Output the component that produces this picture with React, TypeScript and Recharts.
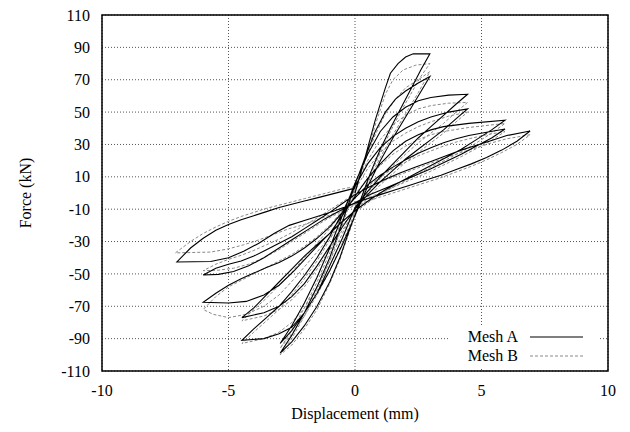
import { LineChart, Line, XAxis, YAxis, CartesianGrid, ReferenceArea } from 'recharts';

// displacement (mm) / force (kN) pairs, traced branch by branch
const meshA: [number, number][] = [
  // cycle 1 load
  [0, 0], [0.4, 22], [0.8, 45], [1.2, 65], [1.4, 74], [1.7, 80], [2.0, 84], [2.3, 86], [2.96, 86],
  // unload
  [2.6, 76], [2.2, 64], [1.8, 52], [1.4, 40], [1.0, 27], [0.6, 12], [0.2, -5], [-0.2, -22], [-0.6, -40],
  [-1.0, -55], [-1.5, -70], [-2.0, -82], [-2.5, -92], [-2.96, -99],
  // cycle 2
  [-2.5, -88], [-2.0, -74], [-1.5, -58], [-1.0, -40], [-0.5, -18], [0, 5], [0.4, 22], [0.8, 38], [1.2, 50],
  [1.6, 58], [2.0, 63], [2.5, 68], [2.96, 72],
  [2.5, 60], [2.0, 47], [1.5, 34], [1.0, 20], [0.5, 4], [0, -14], [-0.5, -32], [-1.0, -48], [-1.5, -62],
  [-2.0, -74], [-2.5, -85], [-2.96, -93],
  // cycle 3
  [-2.5, -82], [-2.0, -68], [-1.5, -52], [-1.0, -34], [-0.5, -14], [0, 6], [0.5, 24], [1.0, 38], [1.5, 47],
  [2.0, 53], [2.5, 57], [3.0, 59], [3.7, 60.5], [4.45, 61],
  [4.0, 55], [3.5, 48], [3.0, 41], [2.5, 34], [2.0, 26], [1.5, 18], [1.0, 10], [0.5, 1], [0, -9],
  [-0.5, -28], [-1.0, -45], [-1.5, -62], [-2.0, -74], [-2.5, -83], [-3.0, -87], [-3.6, -90], [-4.47, -91],
  // cycle 4
  [-4.0, -84], [-3.5, -77], [-3.0, -70], [-2.5, -61], [-2.0, -51], [-1.5, -40], [-1.0, -27], [-0.5, -12],
  [0, 4], [0.5, 18], [1.0, 28], [1.5, 35], [2.0, 40], [2.5, 44], [3.0, 47], [3.7, 50], [4.45, 52],
  [4.0, 46], [3.5, 39], [3.0, 33], [2.5, 27], [2.0, 21], [1.5, 14], [1.0, 7], [0.5, -1], [0, -10],
  [-0.5, -21], [-1.0, -33], [-1.5, -45], [-2.0, -56], [-2.5, -64], [-3.0, -70], [-3.6, -74], [-4.47, -77],
  // cycle 5
  [-4.0, -71], [-3.5, -63], [-3.0, -55], [-2.5, -47], [-2.0, -39], [-1.5, -32], [-1.0, -25], [-0.5, -14],
  [0, -2], [0.5, 9], [1.0, 18], [1.5, 26], [2.0, 32], [2.5, 36], [3.0, 39], [3.5, 41], [4.5, 43], [5.93, 45],
  [5.4, 39], [4.8, 33], [4.2, 27], [3.6, 22], [3.0, 17], [2.4, 12], [1.8, 7], [1.2, 2], [0.6, -4], [0, -11],
  [-0.6, -19], [-1.2, -28], [-1.8, -38], [-2.4, -48], [-3.0, -57], [-3.6, -63], [-4.3, -67], [-5.0, -68],
  [-6.0, -67.5],
  // cycle 6
  [-5.5, -62], [-5.0, -57], [-4.5, -53], [-4.0, -49.5], [-3.5, -46], [-3.0, -43], [-2.5, -39], [-2.0, -34],
  [-1.5, -28], [-1.0, -21], [-0.5, -12], [0, -3], [0.5, 5], [1.0, 11], [1.5, 16], [2.0, 20.5], [2.5, 24.5],
  [3.0, 28], [3.5, 31], [4.0, 33.5], [4.5, 35.5], [5.2, 37.5], [5.93, 39.5],
  [5.4, 34], [4.8, 29], [4.2, 24], [3.6, 19.5], [3.0, 15], [2.4, 11], [1.8, 7], [1.2, 3], [0.6, -1], [0, -6],
  [-0.6, -11], [-1.2, -16], [-1.8, -22], [-2.4, -28], [-3.0, -34], [-3.6, -40], [-4.2, -45], [-4.8, -48.5],
  [-5.4, -50.3], [-6.0, -50.7],
  // cycle 7
  [-5.5, -46.5], [-5.0, -44], [-4.5, -42], [-4.0, -39], [-3.5, -35], [-3.0, -31], [-2.5, -27], [-2.0, -22],
  [-1.5, -17], [-1.0, -12], [-0.5, -6.5], [0, -1], [0.6, 4], [1.2, 8.5], [1.8, 12.5], [2.4, 16], [3.0, 19.5],
  [3.6, 23], [4.2, 26.5], [4.8, 29.5], [5.4, 32.5], [6.0, 35.5], [6.92, 38.3],
  [6.4, 32], [5.8, 26.5], [5.2, 22], [4.6, 18], [4.0, 14.5], [3.4, 11], [2.8, 8], [2.2, 5], [1.6, 2],
  [1.0, -1], [0.4, -4], [-0.2, -7.5], [-0.8, -11], [-1.4, -14], [-2.0, -17], [-2.6, -20], [-3.2, -25],
  [-3.8, -31], [-4.4, -36], [-5.0, -40], [-5.7, -42.3], [-7.04, -42.6],
  // final reload
  [-6.5, -34], [-6.0, -28], [-5.5, -23], [-5.0, -19.5], [-4.5, -16.5], [-4.0, -14], [-3.5, -11.5],
  [-3.0, -9], [-2.5, -7], [-2.0, -5], [-1.5, -3], [-1.0, -1], [-0.5, 1], [0, 3],
];

const meshB: [number, number][] = [
  [0, 0], [0.4, 20], [0.8, 42], [1.2, 61], [1.5, 70], [1.9, 76], [2.4, 79], [2.96, 80],
  [2.6, 72], [2.2, 61], [1.8, 50], [1.4, 38], [1.0, 25], [0.6, 11], [0.2, -6], [-0.2, -23], [-0.6, -41],
  [-1.0, -56], [-1.5, -72], [-2.0, -84], [-2.5, -94], [-2.96, -100],
  [-2.5, -90], [-2.0, -76], [-1.5, -60], [-1.0, -42], [-0.5, -20], [0, 3], [0.4, 20], [0.8, 36], [1.2, 49],
  [1.6, 58], [2.0, 65], [2.5, 70], [2.96, 75],
  [2.5, 62], [2.0, 49], [1.5, 36], [1.0, 22], [0.5, 6], [0, -12], [-0.5, -31], [-1.0, -48], [-1.5, -63],
  [-2.0, -76], [-2.5, -87], [-2.96, -96],
  [-2.5, -85], [-2.0, -71], [-1.5, -55], [-1.0, -37], [-0.5, -17], [0, 3], [0.5, 20], [1.0, 33], [1.5, 42],
  [2.0, 48], [2.5, 52], [3.0, 54], [3.7, 55.5], [4.45, 56],
  [4.0, 50], [3.5, 43], [3.0, 37], [2.5, 31], [2.0, 24], [1.5, 17], [1.0, 9], [0.5, 0], [0, -10],
  [-0.5, -25], [-1.0, -42], [-1.5, -58], [-2.0, -71], [-2.5, -80], [-3.0, -86], [-3.6, -90], [-4.47, -93],
  [-4.0, -86], [-3.5, -79], [-3.0, -72], [-2.5, -63], [-2.0, -53], [-1.5, -42], [-1.0, -29], [-0.5, -14],
  [0, 2], [0.5, 15], [1.0, 25], [1.5, 32], [2.0, 37], [2.5, 41], [3.0, 44], [3.7, 47.5], [4.45, 50],
  [4.0, 44], [3.5, 37], [3.0, 31], [2.5, 25], [2.0, 19], [1.5, 12], [1.0, 5], [0.5, -3], [0, -12],
  [-0.5, -23], [-1.0, -35], [-1.5, -47], [-2.0, -58], [-2.5, -66], [-3.0, -72], [-3.6, -76], [-4.47, -79],
  [-4.0, -72], [-3.5, -65], [-3.0, -57], [-2.5, -49], [-2.0, -40], [-1.5, -31], [-1.0, -22], [-0.5, -12],
  [0, -1], [0.5, 9], [1.0, 17], [1.5, 24], [2.0, 29], [2.5, 33], [3.0, 36], [3.5, 38], [4.5, 40.5], [5.93, 43],
  [5.4, 37], [4.8, 31], [4.2, 25.5], [3.6, 20.5], [3.0, 16], [2.4, 11], [1.8, 6], [1.2, 1], [0.6, -5],
  [0, -12], [-0.6, -21], [-1.2, -31], [-1.8, -42], [-2.4, -53], [-3.0, -63], [-3.6, -70], [-4.3, -75],
  [-5.0, -77], [-5.6, -75], [-6.0, -72],
  [-5.5, -64], [-5.0, -58], [-4.5, -54], [-4.0, -50], [-3.5, -46], [-3.0, -42], [-2.5, -38], [-2.0, -33],
  [-1.5, -27], [-1.0, -20], [-0.5, -11], [0, -3], [0.5, 4], [1.0, 10], [1.5, 15], [2.0, 19], [2.5, 23],
  [3.0, 26], [3.5, 29], [4.0, 31.5], [4.5, 33.5], [5.2, 36], [5.93, 38],
  [5.4, 32.5], [4.8, 27.5], [4.2, 22.5], [3.6, 18], [3.0, 13.5], [2.4, 9.5], [1.8, 5.5], [1.2, 1.5],
  [0.6, -2.5], [0, -7], [-0.6, -12], [-1.2, -17], [-1.8, -23], [-2.4, -29], [-3.0, -35], [-3.6, -40],
  [-4.2, -44], [-4.8, -46.5], [-5.4, -47.7], [-6.0, -48],
  [-5.5, -44], [-5.0, -41], [-4.5, -38.5], [-4.0, -35.5], [-3.5, -32], [-3.0, -28.5], [-2.5, -24.5],
  [-2.0, -20], [-1.5, -15.5], [-1.0, -10.5], [-0.5, -5.5], [0, -0.5], [0.6, 4], [1.2, 8], [1.8, 11.5],
  [2.4, 15], [3.0, 18.5], [3.6, 22], [4.2, 25], [4.8, 28], [5.4, 31], [6.0, 33.5], [6.92, 36],
  [6.4, 30], [5.8, 25], [5.2, 20.5], [4.6, 16.5], [4.0, 13], [3.4, 9.5], [2.8, 6.5], [2.2, 3.5], [1.6, 0.5],
  [1.0, -2.5], [0.4, -5.5], [-0.2, -9], [-0.8, -12.5], [-1.4, -16], [-2.0, -19.5], [-2.6, -22],
  [-3.2, -25.5], [-3.8, -29], [-4.4, -32], [-5.0, -34.5], [-5.7, -36.5], [-7.1, -37],
  [-6.5, -30], [-6.0, -25], [-5.5, -21], [-5.0, -17.5], [-4.5, -14.5], [-4.0, -12], [-3.5, -9.5],
  [-3.0, -7.5], [-2.5, -5.5], [-2.0, -3.5], [-1.5, -1.5], [-1.0, 0.5], [-0.5, 2.5], [0, 4],
];

const xTicks = [-10, -5, 0, 5, 10];
const yTicks = [-110, -90, -70, -50, -30, -10, 10, 30, 50, 70, 90, 110];

const seriesA = meshA.map(([x, y]) => ({ x, y }));
const seriesB = meshB.map(([x, y]) => ({ x, y }));

const font = "'Liberation Serif', 'Times New Roman', Times, serif";
const textStyle = { fontFamily: font };

function LegendBox() {
  return (
    <svg
      width={150}
      height={42}
      style={{ position: 'absolute', left: 442, top: 318, background: '#fff' }}
    >
      <text x={68} y={16} textAnchor="end" style={textStyle} fontSize={16} fill="#000">Mesh A</text>
      <line x1={80} x2={133} y1={11} y2={11} stroke="#000" strokeWidth={1.2} />
      <text x={68} y={35} textAnchor="end" style={textStyle} fontSize={16} fill="#000">Mesh B</text>
      <line x1={80} x2={133} y1={30} y2={30} stroke="#888" strokeWidth={1} strokeDasharray="3 2" />
    </svg>
  );
}

export default function App() {
  return (
    <div style={{ position: 'relative', width: 614, height: 416, fontFamily: font }}>
      <LineChart width={614} height={416} margin={{ top: 7, right: 14, bottom: 3, left: 0 }} style={textStyle}>
        <CartesianGrid stroke="#555" strokeDasharray="1 2" />
        <XAxis
          type="number"
          dataKey="x"
          domain={[-10, 10]}
          ticks={xTicks}
          allowDataOverflow
          height={50}
          tickLine={false}
          tickSize={6}
          tickMargin={8}
          axisLine={false}
          tick={{ fill: '#000', fontSize: 16, style: textStyle }}
          label={{ value: 'Displacement (mm)', position: 'insideBottom', offset: 2, fill: '#000', fontSize: 16, style: textStyle }}
        />
        <YAxis
          type="number"
          dataKey="y"
          domain={[-110, 110]}
          ticks={yTicks}
          allowDataOverflow
          width={94}
          tickLine={false}
          tickSize={6}
          tickMargin={6}
          axisLine={false}
          interval={0}
          tick={{ fill: '#000', fontSize: 16, style: textStyle }}
          label={{ value: 'Force (kN)', angle: -90, position: 'insideLeft', offset: 17, fill: '#000', fontSize: 16, style: { ...textStyle, textAnchor: 'middle' } }}
        />
        <Line data={seriesB} dataKey="y" type="linear" stroke="#888" strokeWidth={1} strokeDasharray="3 2" dot={false} isAnimationActive={false} />
        <Line data={seriesA} dataKey="y" type="linear" stroke="#000" strokeWidth={1.1} dot={false} isAnimationActive={false} />
        <ReferenceArea x1={-10} x2={10} y1={-110} y2={110} fill="none" stroke="#000" strokeWidth={1.5} fillOpacity={0} />
      </LineChart>
      <LegendBox />
    </div>
  );
}
